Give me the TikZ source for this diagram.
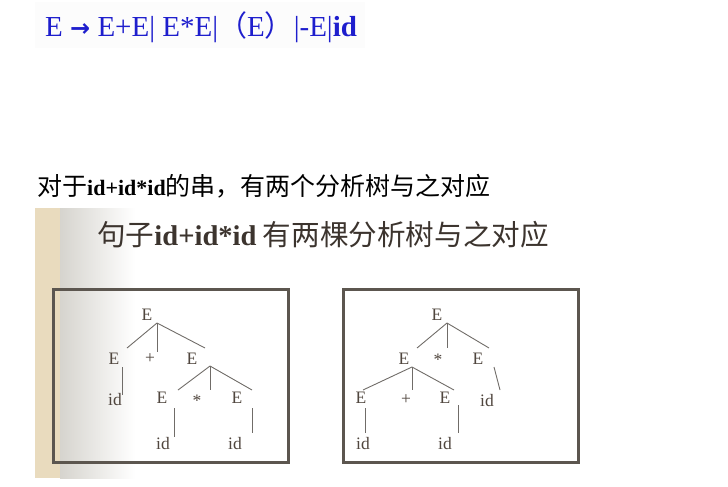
\documentclass[tikz,border=0pt]{standalone}
\usepackage{fontspec}
\setmainfont{Liberation Serif}
\newfontfamily\cjk{Noto Sans CJK SC}
\newfontfamily\symf{DejaVu Sans}
\definecolor{rulecol}{RGB}{30,30,205}
\definecolor{treecol}{RGB}{80,70,62}
\definecolor{edgecol}{RGB}{112,108,104}
\definecolor{framecol}{RGB}{92,86,79}
\definecolor{sandcol}{RGB}{233,219,190}
\definecolor{fadecol}{RGB}{214,212,206}
\definecolor{titlecol}{RGB}{60,52,46}

\begin{document}
\begin{tikzpicture}[x=1pt,y=-1pt,
    lbl/.style={inner sep=0pt,text=treecol,font=\fontsize{17.5}{17.5}\selectfont},
    edge/.style={draw=edgecol,line width=0.9pt},
    frame/.style={draw=framecol,line width=3pt}]
    \useasboundingbox (0,0) rectangle (728,487);
    % grammar line
    \fill[gray!2] (35,2) rectangle (365,48);
    \node[anchor=base west,inner sep=0pt,text=rulecol,font=\fontsize{29}{29}\selectfont] (rule) at (45,37)
      {E {\symf\bfseries\fontsize{24}{24}\selectfont →} E+E| E*E|{\cjk （}E{\cjk ）}|-E|\textbf{id}};
    \node[anchor=base west,inner sep=0pt,font=\cjk\fontsize{25}{25}\selectfont] (sub) at (37,195)
      {对于{\rmfamily\bfseries\fontsize{22}{22}\selectfont id+id*id}的串，有两个分析树与之对应};
    % slide panel
    \fill[sandcol] (35,208) rectangle (60,478);
    \shade[left color=fadecol,right color=white] (60,208) rectangle (135,478);
    \node[anchor=base west,inner sep=0pt,text=titlecol,font=\cjk\fontsize{28.6}{28.6}\selectfont] (title) at (97,245)
      {句子{\rmfamily\bfseries id+id*id} 有两棵分析树与之对应};
    \draw[frame] (53,289) rectangle (288,462);
    \draw[frame] (343,289) rectangle (578,462);
    % left tree
    \node[lbl] (l0) at (147,315) {E};
    \node[lbl] (l1) at (114,359) {E};
    \node[lbl] (lp) at (150,359) {+};
    \node[lbl] (l2) at (192,359) {E};
    \node[lbl] (l3) at (115,400) {id};
    \node[lbl] (l4) at (162,398) {E};
    \node[lbl] (lm) at (197,401) {*};
    \node[lbl] (l5) at (237,398) {E};
    \node[lbl] (l6) at (163,444) {id};
    \node[lbl] (l7) at (235,444) {id};
    \draw[edge] ([shift={(10,8)}]l0.center) -- ([shift={(13,-11)}]l1.center);
    \draw[edge] ([shift={(10,8)}]l0.center) -- ([shift={(7,-7)}]lp.center);
    \draw[edge] ([shift={(10,8)}]l0.center) -- ([shift={(13,-11)}]l2.center);
    \draw[edge] ([shift={(8,8)}]l1.center) -- ([shift={(7,-5)}]l3.center);
    \draw[edge] ([shift={(18,7)}]l2.center) -- ([shift={(16,-8)}]l4.center);
    \draw[edge] ([shift={(18,7)}]l2.center) -- ([shift={(13,-11)}]lm.center);
    \draw[edge] ([shift={(18,7)}]l2.center) -- ([shift={(15,-8)}]l5.center);
    \draw[edge] ([shift={(12,10)}]l4.center) -- ([shift={(11,-7)}]l6.center);
    \draw[edge] ([shift={(15,10)}]l5.center) -- ([shift={(17,-11)}]l7.center);
    % right tree
    \node[lbl] (r0) at (437,315) {E};
    \node[lbl] (r1) at (404,359) {E};
    \node[lbl] (rm) at (438,360) {*};
    \node[lbl] (r2) at (478,359) {E};
    \node[lbl] (r3) at (361,398) {E};
    \node[lbl] (rp) at (406,400) {+};
    \node[lbl] (r4) at (445,398) {E};
    \node[lbl] (r5) at (487,401) {id};
    \node[lbl] (r6) at (363,444) {id};
    \node[lbl] (r7) at (445,444) {id};
    \draw[edge] ([shift={(10,8)}]r0.center) -- ([shift={(13,-11)}]r1.center);
    \draw[edge] ([shift={(10,8)}]r0.center) -- ([shift={(9,-12)}]rm.center);
    \draw[edge] ([shift={(10,8)}]r0.center) -- ([shift={(11,-11)}]r2.center);
    \draw[edge] ([shift={(8,8)}]r1.center) -- ([shift={(2,-8)}]r3.center);
    \draw[edge] ([shift={(8,8)}]r1.center) -- ([shift={(6,-10)}]rp.center);
    \draw[edge] ([shift={(8,8)}]r1.center) -- ([shift={(9,-8)}]r4.center);
    \draw[edge] ([shift={(16,8)}]r2.center) -- ([shift={(13,-11)}]r5.center);
    \draw[edge] ([shift={(4,10)}]r3.center) -- ([shift={(2,-11)}]r6.center);
    \draw[edge] ([shift={(13,7)}]r4.center) -- ([shift={(13,-11)}]r7.center);
\end{tikzpicture}
\end{document}
